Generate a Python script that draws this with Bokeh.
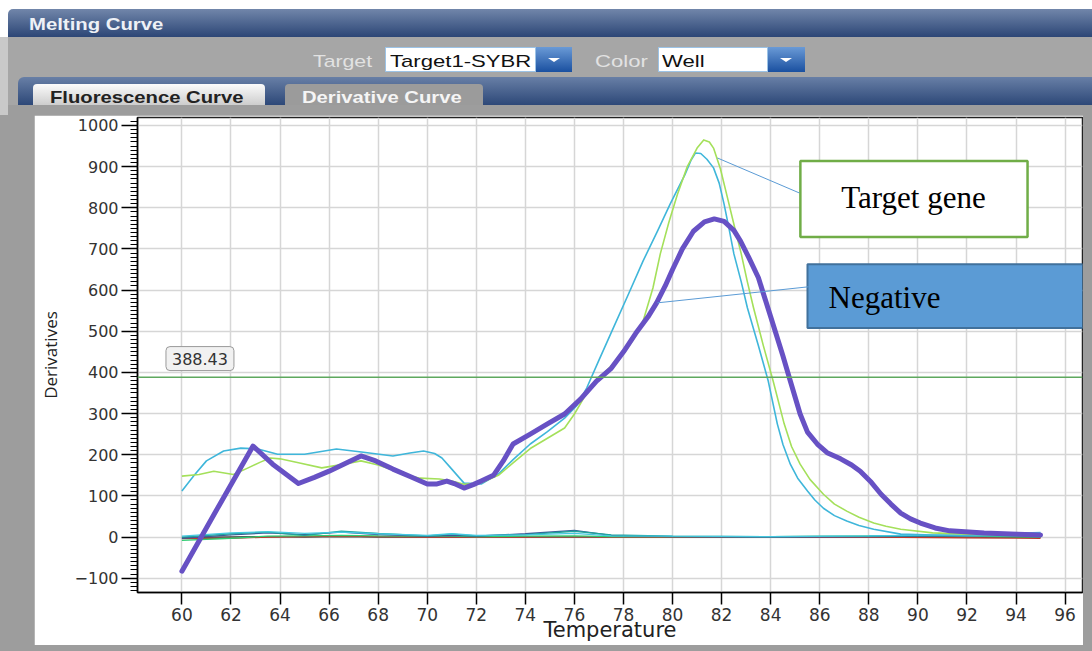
from bokeh.plotting import figure
from bokeh.models import (Range1d, SingleIntervalTicker, FixedTicker, Span, Label,
                          BoxAnnotation, Arrow, Div)
from bokeh.layouts import column
from bokeh.embed import file_html
from bokeh.resources import INLINE

# ---------------- data ----------------
neg_t = [60.0, 61.5, 62.9, 63.7, 64.75, 65.4, 66.0, 66.7, 67.3, 67.9, 68.6, 69.3, 70.0, 70.4,
         70.8, 71.1, 71.5, 71.9, 72.2, 72.7, 73.1, 73.5, 74.2, 74.9, 75.6, 76.25, 76.9, 77.5,
         78.0, 78.5, 79.0, 79.35, 79.7, 80.0, 80.4, 80.85, 81.3, 81.7, 82.1, 82.5, 82.77,
         83.1, 83.5, 84.0, 84.5, 84.8, 85.2, 85.5, 85.9, 86.3, 86.85, 87.3, 87.65, 88.1,
         88.5, 88.9, 89.3, 89.7, 90.1, 90.7, 91.3, 92.7, 94.05, 95.0]
neg_d = [-83, 75, 221, 177, 130, 145, 160, 180, 197, 185, 165, 147, 129, 129,
         136, 130, 119, 128, 136, 150, 185, 226, 250, 275, 299, 335, 379, 410,
         450, 495, 535, 569, 610, 650, 700, 743, 766, 773, 767, 745, 719,
         680, 630, 535, 440, 379, 299, 255, 226, 205, 190, 175, 160, 133,
         104, 80, 58, 44, 34, 22, 15, 10, 7, 5]

tg1_t = [60.0, 60.5, 61.0, 61.7, 62.4, 63.1, 63.9, 65.0, 66.3, 67.4, 68.6, 69.3, 69.85, 70.3,
         70.6, 71.0, 71.5, 72.2, 72.9, 73.5, 74.2, 74.9, 75.6, 76.1, 76.5, 77.0, 77.6, 78.2,
         78.8, 79.4, 79.9, 80.5, 80.75, 80.93, 81.15, 81.4, 81.67, 81.9, 82.1, 82.3, 82.5,
         82.8, 83.05, 83.5, 83.9, 84.27, 84.5, 84.8, 85.1, 85.5, 85.8, 86.15, 86.6, 87.1,
         87.6, 88.2, 89.3, 90.6, 92.0, 94.0, 95.0]
tg1_d = [112, 150, 185, 209, 216, 214, 201, 201, 214, 206, 197, 204, 209, 203,
         192, 165, 131, 129, 153, 188, 226, 256, 289, 320, 362, 430, 510, 590,
         671, 745, 809, 880, 915, 933, 932, 918, 897, 860, 809, 750, 688,
         620, 557, 465, 379, 275, 225, 177, 143, 112, 90, 70, 52, 39,
         28, 19, 7, 5, 3, 4, 8]

tg2_t = [60.0, 60.7, 61.3, 62.1, 62.7, 63.2, 63.6, 64.0, 64.8, 65.7, 66.5, 67.3, 68.0, 68.5,
         69.1, 69.7, 70.5, 71.0, 71.5, 72.2, 72.9, 73.5, 74.2, 74.9, 75.6, 76.0, 76.4, 76.86,
         77.4, 78.0, 78.4, 78.8, 79.2, 79.5, 79.85, 80.2, 80.6, 81.0, 81.27, 81.5, 81.67,
         81.95, 82.24, 82.5, 82.8, 83.05, 83.3, 83.7, 84.1, 84.55, 84.85, 85.2, 85.6, 86.15,
         86.6, 87.1, 87.6, 88.2, 88.7, 89.3, 90.6, 92.0, 95.0]
tg2_d = [148, 152, 160, 152, 168, 182, 192, 190, 180, 168, 176, 185, 175, 165,
         152, 143, 141, 136, 128, 132, 150, 180, 215, 240, 265, 299, 340, 379,
         410, 445, 480, 525, 605, 688, 765, 833, 900, 945, 965, 960, 945,
         895, 824, 760, 688, 620, 557, 465, 379, 275, 220, 177, 140, 104,
         80, 63, 48, 34, 26, 19, 10, 7, 3]

base_t = [60, 62, 63.5, 65, 66.5, 68, 70, 71, 72, 74, 76, 77.5, 80, 84, 88, 92, 95]
base_teal = [0, 8, 12, 4, 14, 9, 3, 7, 3, 6, 14, 5, 2, 1, 2, 4, 8]
base_blue = [-3, 5, 10, 6, 12, 6, 2, 4, 2, 8, 16, 4, 1, 0, 1, 3, 5]
base_red = [-4, -3, 0, 1, 2, 1, 0, 0, 0, 0, 1, 0, 0, 0, 0, -2, -3]
base_green = [-8, -3, 2, 3, 4, 3, 2, 2, 1, 2, 3, 1, 1, 1, 2, 2, 0]
base_cyan = [2, 10, 13, 9, 12, 8, 4, 8, 4, 5, 9, 3, 2, 1, 3, 6, 11]
base_dark = [-1, 0, 1, 0, 1, 0, 0, 0, 0, 0, 0, 0, 0, 0, 0, 0, -1]

threshold = 388.43
x_ticks = list(range(58, 98, 2))

# ---------------- header (UI chrome) ----------------
TXT = "position:absolute;transform-origin:0 0;white-space:nowrap;"
header_html = f"""
<div style="position:relative;width:1092px;height:115px;background:#ffffff;overflow:hidden;
            font-family:'Liberation Sans',Arial,sans-serif;">
  <div style="position:absolute;left:0;top:37px;width:8px;height:78px;background:#c9c9c9;"></div>
  <div style="position:absolute;left:8px;top:37px;width:1084px;height:78px;background:#a6a6a6;"></div>
  <div style="position:absolute;left:8px;top:9px;width:1084px;height:28px;border-radius:5px 0 0 0;
              background:linear-gradient(#7186aa,#2c4676);"></div>
  <div style="{TXT}left:29px;top:14px;color:#eef1f6;font-size:16px;font-weight:bold;transform:scaleX(1.27);">Melting Curve</div>

  <div style="{TXT}left:313px;top:50px;color:#e2e2e2;font-size:17px;transform:scaleX(1.25);">Target</div>
  <div style="position:absolute;left:385px;top:47px;width:151px;height:25px;background:#ffffff;
              border:1px solid #9cc3e6;box-sizing:border-box;"></div>
  <div style="{TXT}left:390px;top:50px;color:#111;font-size:17px;transform:scaleX(1.3);">Target1-SYBR</div>
  <div style="position:absolute;left:536px;top:47px;width:36px;height:25px;
              background:linear-gradient(#6a9ad6,#1a50a0);"></div>
  <div style="position:absolute;left:548px;top:58px;width:0;height:0;border-left:6px solid transparent;
              border-right:6px solid transparent;border-top:4px solid #ffffff;"></div>

  <div style="{TXT}left:595px;top:50px;color:#e2e2e2;font-size:17px;transform:scaleX(1.3);">Color</div>
  <div style="position:absolute;left:658px;top:47px;width:110px;height:25px;background:#ffffff;
              border:1px solid #9cc3e6;box-sizing:border-box;"></div>
  <div style="{TXT}left:662px;top:50px;color:#111;font-size:17px;transform:scaleX(1.3);">Well</div>
  <div style="position:absolute;left:768px;top:47px;width:37px;height:25px;
              background:linear-gradient(#6a9ad6,#1a50a0);"></div>
  <div style="position:absolute;left:780px;top:58px;width:0;height:0;border-left:6px solid transparent;
              border-right:6px solid transparent;border-top:4px solid #ffffff;"></div>

  <div style="position:absolute;left:18px;top:77px;width:1074px;height:28px;border-radius:6px 0 0 0;
              background:linear-gradient(#687fa6,#2d4878);"></div>
  <div style="position:absolute;left:33px;top:84px;width:232px;height:21px;border-radius:4px 4px 0 0;
              background:linear-gradient(#fbfbfb,#cdcdcd);"></div>
  <div style="{TXT}left:50px;top:86px;color:#222;font-size:17px;font-weight:bold;transform:scaleX(1.19);">Fluorescence Curve</div>
  <div style="position:absolute;left:285px;top:84px;width:198px;height:21px;border-radius:4px 4px 0 0;
              background:#9b9b9b;"></div>
  <div style="{TXT}left:302px;top:86px;color:#f5f5f5;font-size:17px;font-weight:bold;transform:scaleX(1.19);">Derivative Curve</div>
  <div style="position:absolute;left:8px;top:105px;width:1084px;height:10px;background:#9d9d9d;"></div>
</div>
"""
header = Div(text=header_html, width=1092, height=115, margin=(0, 0, 0, 0))

# ---------------- chart ----------------
p = figure(width=1049, height=530, output_backend="svg", toolbar_location=None,
           x_range=Range1d(58.19, 96.71), y_range=Range1d(-134.8, 1019.4),
           min_border_left=103, min_border_right=1, min_border_top=2, min_border_bottom=53,
           background_fill_color="white", border_fill_color="white",
           margin=(0, 9, 6, 34))
p.outline_line_color = "#222222"
p.outline_line_width = 1.5

p.xaxis.ticker = FixedTicker(ticks=x_ticks)
p.yaxis.ticker = SingleIntervalTicker(interval=100, num_minor_ticks=10)
for ax in (p.xaxis, p.yaxis):
    ax.axis_line_color = "black"
    ax.axis_line_width = 1.5
    ax.major_tick_line_color = "black"
    ax.major_tick_line_width = 1.5
    ax.major_tick_in = 0
    ax.major_label_text_color = "#333333"
    ax.major_label_text_font = "DejaVu Sans"
    ax.axis_label_text_font_style = "normal"
    ax.axis_label_text_color = "#222222"
p.xaxis.major_tick_out = 12
p.xaxis.minor_tick_line_color = None
p.xaxis.major_label_text_font_size = "17px"
p.xaxis.major_label_standoff = 3
p.xaxis.axis_label = "Temperature"
p.xaxis.axis_label_text_font = "DejaVu Sans"
p.xaxis.axis_label_text_font_size = "21px"
p.xaxis.axis_label_standoff = -6

p.yaxis.major_tick_out = 16
p.yaxis.minor_tick_out = 7
p.yaxis.minor_tick_in = 0
p.yaxis.minor_tick_line_color = "black"
p.yaxis.major_label_text_font_size = "16px"
p.yaxis.major_label_standoff = 3
p.yaxis.axis_label = "Derivatives"
p.yaxis.axis_label_text_font = "Open Sans"
p.yaxis.axis_label_text_font_size = "17px"
p.yaxis.axis_label_standoff = 10

p.xgrid.grid_line_color = "#d6d6d6"
p.ygrid.grid_line_color = "#d6d6d6"
p.xgrid.grid_line_width = 1.5
p.ygrid.grid_line_width = 1.5

# baseline (no-amplification) wells
for ys, col in [(base_dark, "#444444"), (base_red, "#c0392b"), (base_green, "#2ecc71"),
                (base_blue, "#3c5a9a"), (base_teal, "#20a39a"), (base_cyan, "#45c8e0")]:
    p.line(base_t, ys, line_color=col, line_width=1.3)

# target gene wells
p.line(tg1_t, tg1_d, line_color="#3fb6da", line_width=1.6, line_join="round")
p.line(tg2_t, tg2_d, line_color="#a4e05a", line_width=1.6, line_join="round")
# negative
p.line(neg_t, neg_d, line_color="#6751c4", line_width=5, line_join="round", line_cap="round")

# threshold
p.add_layout(Span(location=threshold, dimension="width", line_color="#5ea85e", line_width=1.5))
p.add_layout(Label(x=59.35, y=threshold + 16, text=f"{threshold:.2f}", text_font="DejaVu Sans",
                   text_font_size="16px", text_color="#333333",
                   background_fill_color="#f1f1f1", background_fill_alpha=1,
                   border_line_color="#9a9a9a", border_line_width=1,
                   border_radius=4, padding=6))

# callouts
ANNOT = dict(tg_box=(85.21, 94.47, 729, 914), tg_text=(89.82, 824),
             tg_lead=(81.83, 921, 85.17, 836),
             neg_box=(85.5, 97.5, 508, 663), neg_text=(86.36, 581),
             neg_lead=(79.38, 569, 85.54, 608))
l, r, b, t = ANNOT["tg_box"]
p.add_layout(BoxAnnotation(left=l, right=r, bottom=b, top=t, fill_color="white", fill_alpha=1,
                           line_color="#70ad47", line_width=2.5, line_alpha=1))
l, r, b, t = ANNOT["neg_box"]
p.add_layout(BoxAnnotation(left=l, right=r, bottom=b, top=t, fill_color="#5b9bd5", fill_alpha=1,
                           line_color="#41719c", line_width=2, line_alpha=1))
x0, y0, x1, y1 = ANNOT["tg_lead"]
p.add_layout(Arrow(end=None, x_start=x0, y_start=y0, x_end=x1, y_end=y1,
                   line_color="#5b9bd5", line_width=1))
x0, y0, x1, y1 = ANNOT["neg_lead"]
p.add_layout(Arrow(end=None, x_start=x0, y_start=y0, x_end=x1, y_end=y1,
                   line_color="#5b9bd5", line_width=1))
tx, ty = ANNOT["tg_text"]
p.add_layout(Label(x=tx, y=ty, text="Target gene", text_font="Liberation Serif",
                   text_font_size="31px", text_color="black", text_align="center",
                   text_baseline="middle"))
tx, ty = ANNOT["neg_text"]
p.add_layout(Label(x=tx, y=ty, text="Negative", text_font="Liberation Serif",
                   text_font_size="31px", text_color="black", text_align="left",
                   text_baseline="middle"))

layout = column(header, p, spacing=0, styles={"background-color": "#9d9d9d"})

open("out.html", "w").write(file_html(layout, INLINE))
